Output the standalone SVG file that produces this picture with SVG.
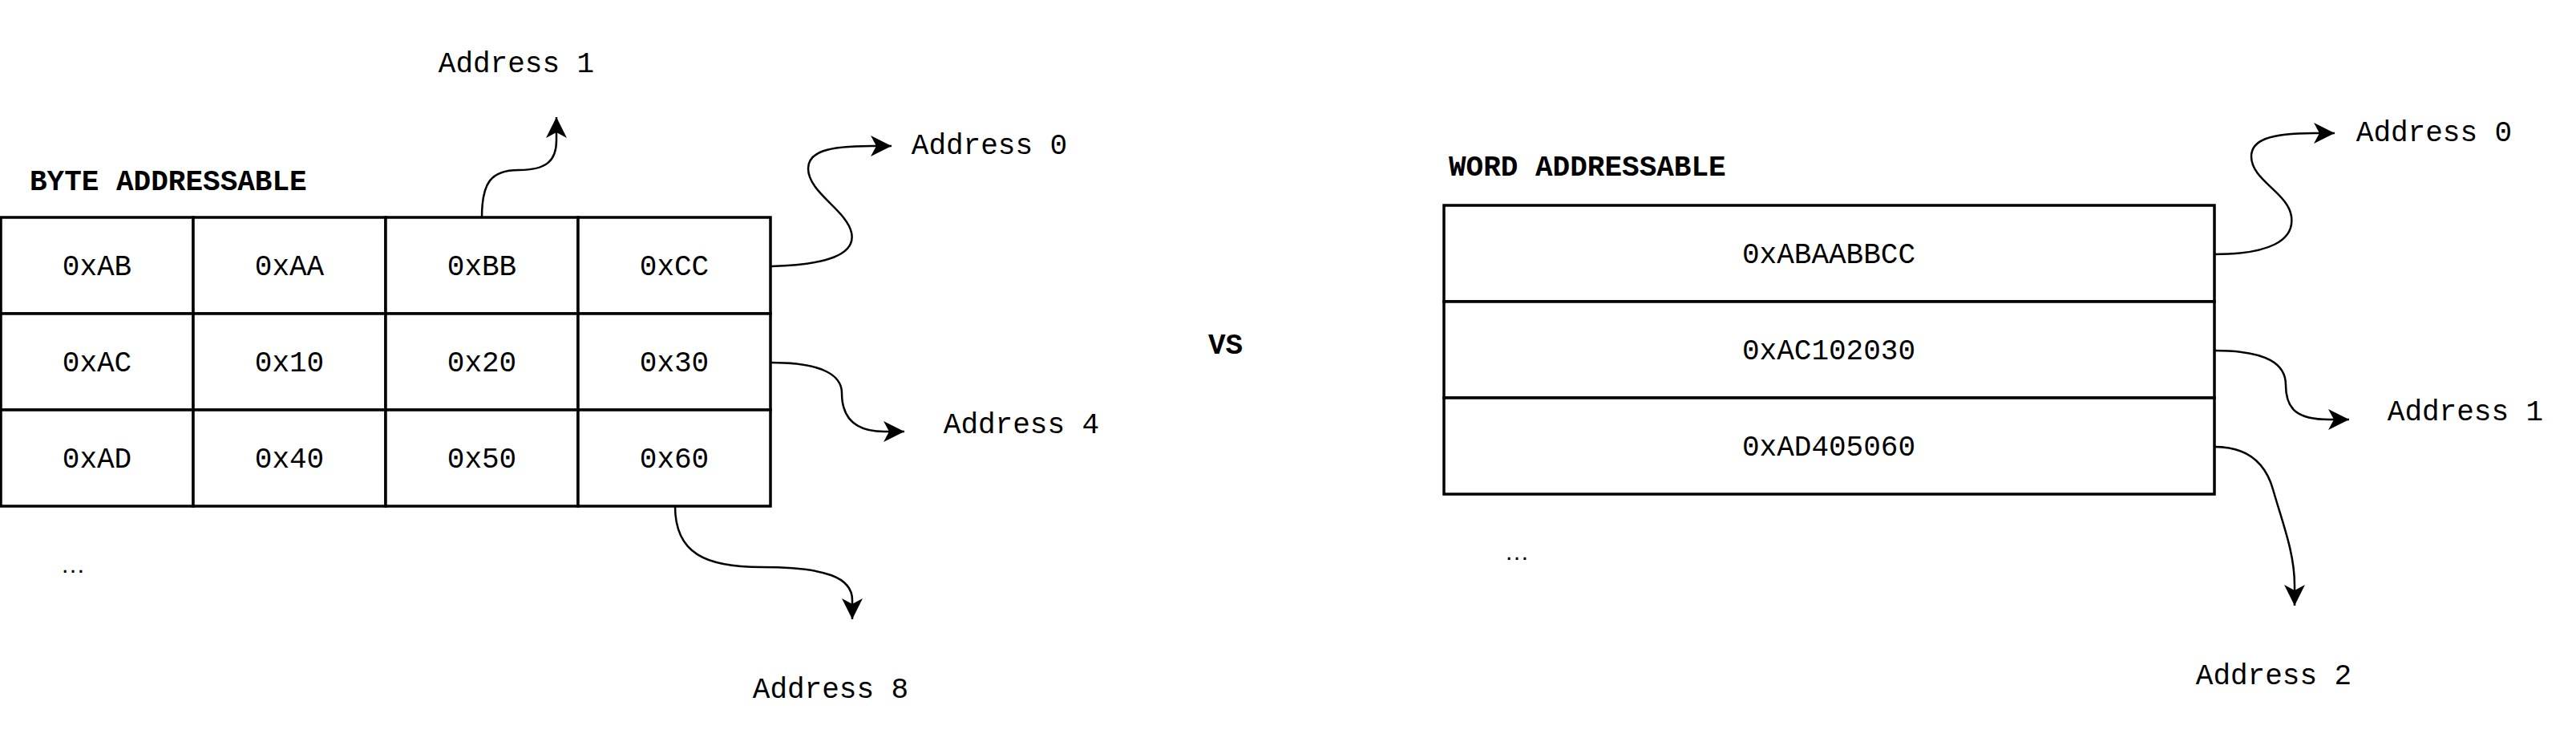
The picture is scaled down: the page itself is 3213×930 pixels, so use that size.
<svg xmlns="http://www.w3.org/2000/svg" width="3213" height="930" viewBox="0 0 3213 930">
<style>
.cell{fill:#fff;stroke:#000;stroke-width:3.5}
.v{font-family:"Liberation Mono","Courier New",monospace;font-size:36px;fill:#000;text-anchor:middle}
.lbl{font-family:"Liberation Mono","Courier New",monospace;font-size:36px;fill:#000;text-anchor:middle}
.hdr{font-family:"Liberation Mono","Courier New",monospace;font-size:36px;font-weight:bold;fill:#000}
.dots{font-family:"Liberation Sans",Arial,sans-serif;font-size:31px;fill:#000;text-anchor:middle}
.edge{fill:none;stroke:#000;stroke-width:2.5}
</style>
<defs>
<marker id="arr" markerUnits="userSpaceOnUse" markerWidth="30" markerHeight="30" refX="26" refY="13" orient="auto">
<path d="M0,0 L26,13 L0,26 L7,13 Z" fill="#000"/>
</marker>
</defs>
<rect width="3213" height="930" fill="#fff"/>

<g id="byte-title"><text class="hdr" x="37" y="237">BYTE ADDRESSABLE</text></g>
<g id="byte-table">
<g id="b00"><rect class="cell" x="1" y="271" width="240" height="120"/><text class="v" x="121" y="343">0xAB</text></g>
<g id="b01"><rect class="cell" x="241" y="271" width="240" height="120"/><text class="v" x="361" y="343">0xAA</text></g>
<g id="b02"><rect class="cell" x="481" y="271" width="240" height="120"/><text class="v" x="601" y="343">0xBB</text></g>
<g id="b03"><rect class="cell" x="721" y="271" width="240" height="120"/><text class="v" x="841" y="343">0xCC</text></g>
<g id="b10"><rect class="cell" x="1" y="391" width="240" height="120"/><text class="v" x="121" y="463">0xAC</text></g>
<g id="b11"><rect class="cell" x="241" y="391" width="240" height="120"/><text class="v" x="361" y="463">0x10</text></g>
<g id="b12"><rect class="cell" x="481" y="391" width="240" height="120"/><text class="v" x="601" y="463">0x20</text></g>
<g id="b13"><rect class="cell" x="721" y="391" width="240" height="120"/><text class="v" x="841" y="463">0x30</text></g>
<g id="b20"><rect class="cell" x="1" y="511" width="240" height="120"/><text class="v" x="121" y="583">0xAD</text></g>
<g id="b21"><rect class="cell" x="241" y="511" width="240" height="120"/><text class="v" x="361" y="583">0x40</text></g>
<g id="b22"><rect class="cell" x="481" y="511" width="240" height="120"/><text class="v" x="601" y="583">0x50</text></g>
<g id="b23"><rect class="cell" x="721" y="511" width="240" height="120"/><text class="v" x="841" y="583">0x60</text></g>
</g>
<g id="byte-dots"><text class="dots" x="91" y="714">…</text></g>

<g id="lbl-addr1-left"><text class="lbl" x="644" y="90">Address 1</text></g>
<g id="lbl-addr0-left"><text class="lbl" x="1234" y="192">Address 0</text></g>
<g id="lbl-addr4"><text class="lbl" x="1274" y="540">Address 4</text></g>
<g id="lbl-addr8"><text class="lbl" x="1036" y="870">Address 8</text></g>

<g id="vs"><text class="hdr" x="1507" y="441">VS</text></g>

<g id="word-title"><text class="hdr" x="1807" y="219">WORD ADDRESSABLE</text></g>
<g id="word-table">
<g id="w0"><rect class="cell" x="1801" y="256" width="961" height="120"/><text class="v" x="2281" y="328">0xABAABBCC</text></g>
<g id="w1"><rect class="cell" x="1801" y="376" width="961" height="120"/><text class="v" x="2281" y="448">0xAC102030</text></g>
<g id="w2"><rect class="cell" x="1801" y="496" width="961" height="120"/><text class="v" x="2281" y="568">0xAD405060</text></g>
</g>
<g id="word-dots"><text class="dots" x="1892" y="698">…</text></g>

<g id="lbl-addr0-right"><text class="lbl" x="3036" y="176">Address 0</text></g>
<g id="lbl-addr1-right"><text class="lbl" x="3075" y="524">Address 1</text></g>
<g id="lbl-addr2"><text class="lbl" x="2836" y="853">Address 2</text></g>

<g id="connectors">
<path class="edge" marker-end="url(#arr)" d="M601,271 C601,228 612,212 647,212 C682,212 694,200 694,175 L694,146"/>
<path class="edge" marker-end="url(#arr)" d="M962,332 C1030,330 1068,318 1062,290 C1056,262 1008,240 1008,210 C1008,190 1030,182 1087,182 L1112,182"/>
<path class="edge" marker-end="url(#arr)" d="M962,452 C1030,452 1050,470 1050,490 C1050,520 1065,538 1103,538 L1128,538"/>
<path class="edge" marker-end="url(#arr)" d="M842,631 C842,690 880,707 950,707 C1030,707 1063,720 1063,748 L1063,772"/>
<path class="edge" marker-end="url(#arr)" d="M2762,317 C2830,317 2862,300 2858,270 C2854,240 2808,225 2808,195 C2808,175 2830,166 2886,166 L2912,166"/>
<path class="edge" marker-end="url(#arr)" d="M2762,437 C2830,437 2851,455 2851,480 C2851,510 2865,523 2905,523 L2930,523"/>
<path class="edge" marker-end="url(#arr)" d="M2762,557 C2800,557 2825,575 2835,610 C2848,655 2862,690 2862,730 L2862,755"/>
</g>
</svg>
